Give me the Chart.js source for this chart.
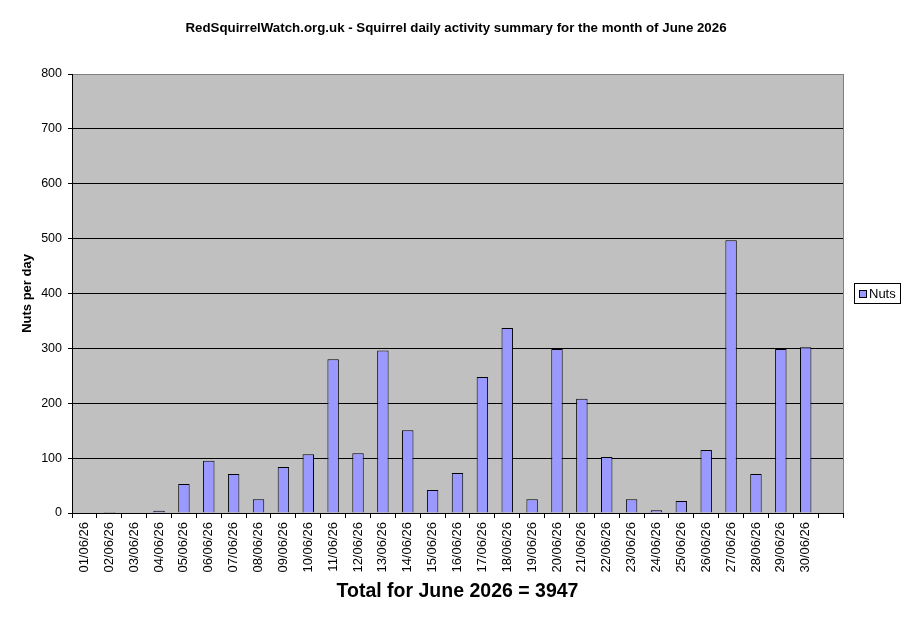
<!DOCTYPE html>
<html>
<head>
<meta charset="utf-8">
<script src="https://cdn.jsdelivr.net/npm/chart.js@4.4.1/dist/chart.umd.min.js"></script>
<style>
  html, body { margin: 0; padding: 0; background: #fff; }
  #wrap { width: 911px; height: 623px; }
</style>
</head>
<body>
<div id="wrap"><canvas id="nutsChart" width="911" height="623"></canvas></div>
<script>
// one slot per day, plus an empty slot at the end like the original sheet
const days = ["01/06/26", "02/06/26", "03/06/26", "04/06/26", "05/06/26", "06/06/26",
    "07/06/26", "08/06/26", "09/06/26", "10/06/26", "11/06/26", "12/06/26",
    "13/06/26", "14/06/26", "15/06/26", "16/06/26", "17/06/26", "18/06/26",
    "19/06/26", "20/06/26", "21/06/26", "22/06/26", "23/06/26", "24/06/26",
    "25/06/26", "26/06/26", "27/06/26", "28/06/26", "29/06/26", "30/06/26", ""];
const nuts = [0, 2, 0, 4, 53, 95, 71, 25, 84, 107,
    280, 109, 296, 151, 42, 73, 248, 337, 25, 299,
    208, 102, 25, 5, 22, 115, 497, 71, 299, 302, null];
const yTicks = [0, 100, 200, 300, 400, 500, 600, 700, 800];

const chartTitle = "RedSquirrelWatch.org.uk - Squirrel daily activity summary for the month of June 2026";
const total = nuts.reduce((s, v) => s + (v || 0), 0);
const FONT = "Arial, 'Liberation Sans', sans-serif";

// grey plot background with the grey frame on top/right
const plotBackground = {
    id: "plotBackground",
    beforeDraw(chart) {
        const { ctx, chartArea: a } = chart;
        ctx.save();
        ctx.fillStyle = "#C0C0C0";
        ctx.fillRect(a.left, a.top, a.right - a.left, a.bottom - a.top);
        ctx.strokeStyle = "#808080";
        ctx.lineWidth = 1;
        ctx.strokeRect(a.left + 0.5, a.top + 0.5, a.right - a.left, a.bottom - a.top);
        ctx.restore();
    }
};

// title centred on the whole canvas, and the boxed legend on the right
const pageText = {
    id: "pageText",
    afterDraw(chart) {
        const { ctx } = chart;
        const ds = chart.data.datasets[0];
        ctx.save();
        ctx.fillStyle = "#000";
        ctx.font = "bold 13.3px " + FONT;
        ctx.textAlign = "center";
        ctx.textBaseline = "middle";
        ctx.fillText(chartTitle, 456, 28);

        const x = 854, y = 283, w = 46, h = 20;
        ctx.fillStyle = "#fff";
        ctx.fillRect(x, y, w, h);
        ctx.strokeStyle = "#000";
        ctx.lineWidth = 1;
        ctx.strokeRect(x + 0.5, y + 0.5, w, h);
        ctx.fillStyle = ds.backgroundColor;
        ctx.fillRect(859, 290, 7, 7);
        ctx.strokeRect(859.5, 290.5, 7, 7);
        ctx.fillStyle = "#000";
        ctx.font = "13px " + FONT;
        ctx.textAlign = "left";
        ctx.fillText(ds.label, 869, 294);
        ctx.restore();
    }
};

new Chart(document.getElementById("nutsChart"), {
    type: "bar",
    data: {
        labels: days,
        datasets: [
            {
                label: "Nuts",
                data: nuts,
                backgroundColor: "#9999FF",
                borderColor: "#000000",
                borderWidth: 1,
                borderSkipped: "bottom",
                barPercentage: 0.46,
                categoryPercentage: 1
            }
        ]
    },
    options: {
        responsive: false,
        animation: false,
        devicePixelRatio: 1,
        layout: {
            padding: { left: 0, right: 68, top: 74, bottom: 0 }
        },
        plugins: {
            legend: { display: false },
            tooltip: { enabled: false },
            title: { display: false }
        },
        scales: {
            x: {
                offset: true,
                afterFit: (scale) => { scale.height = 110; },
                grid: {
                    offset: true,
                    drawOnChartArea: false,
                    drawTicks: true,
                    tickLength: 5,
                    color: "#000"
                },
                border: { color: "#000", width: 1 },
                ticks: {
                    autoSkip: false,
                    maxRotation: 90,
                    minRotation: 90,
                    padding: 4,
                    color: "#000",
                    font: { family: FONT, size: 13 }
                },
                title: {
                    display: true,
                    text: "Total for June 2026 = " + total,
                    color: "#000",
                    font: { family: FONT, size: 19.5, weight: "bold" },
                    padding: { top: 0, bottom: 20 }
                }
            },
            y: {
                min: 0,
                max: 800,
                afterFit: (scale) => { scale.width = 72; },
                afterBuildTicks: (scale) => {
                    scale.ticks = yTicks.map(v => ({ value: v }));
                },
                grid: {
                    color: (c) => (c.tick && c.tick.value === 800 ? "rgba(0,0,0,0)" : "#000"),
                    tickColor: "#000",
                    tickLength: 4,
                    drawTicks: true
                },
                border: { color: "#000", width: 1 },
                ticks: {
                    padding: 6,
                    color: "#000",
                    font: { family: FONT, size: 12.5 }
                },
                title: {
                    display: true,
                    text: "Nuts per day",
                    color: "#000",
                    font: { family: FONT, size: 13, weight: "bold" },
                    padding: { top: 20, bottom: 0 }
                }
            }
        }
    },
    plugins: [plotBackground, pageText]
});
</script>
</body>
</html>
